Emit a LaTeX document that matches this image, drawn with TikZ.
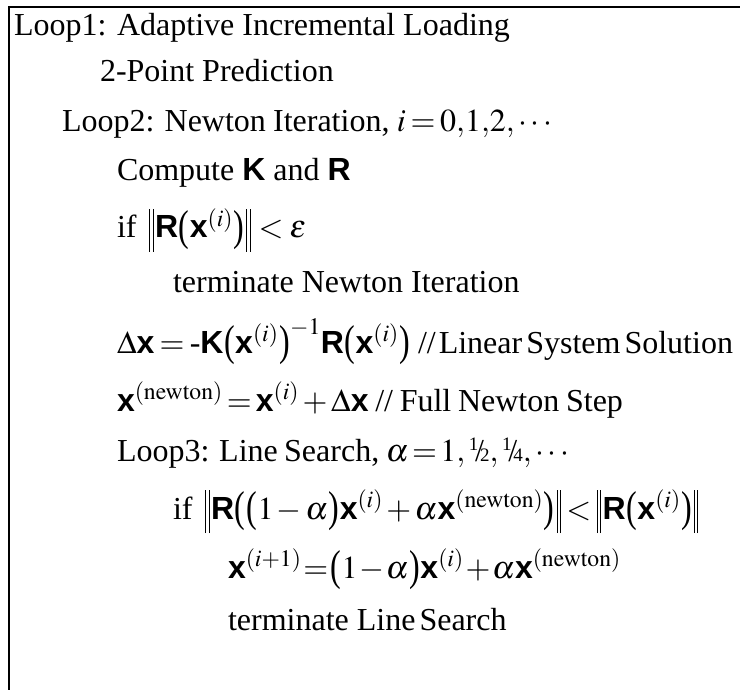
\documentclass[tikz,border=0pt]{standalone}
\usepackage{graphicx}
\usepackage{mathptmx}
\usepackage[no-math]{fontspec}
\setmainfont{Liberation Serif}
\setsansfont{Liberation Sans}

% bold sans-serif vectors and matrices
\newcommand\bvx{\mbox{\sffamily\bfseries x}}
\newcommand\bvK{\mbox{\sffamily\bfseries K}}
\newcommand\bvR{\mbox{\sffamily\bfseries R}}
% tall round brackets and norm bars
\newcommand\lpar{\mathopen{\mbox{\kern0.5pt\raisebox{-2.5pt}{\scalebox{1}[1.35]{(}}\kern0.5pt}}}
\newcommand\rpar{\mathclose{\mbox{\kern0.5pt\raisebox{-2.5pt}{\scalebox{1}[1.35]{)}}\kern0.5pt}}}
\newcommand\normbar{\mbox{\kern1.5pt\rule[-14pt]{1.1pt}{43pt}\kern2.4pt\rule[-14pt]{1.1pt}{43pt}\kern1.5pt}}
\newcommand\lnorm{\mathopen{\normbar}}
\newcommand\rnorm{\mathclose{\normbar}}
% slanted step-size fractions
\newcommand\slfrac[2]{\mbox{\raisebox{0.34em}{\fontsize{19}{19}\selectfont #1}\kern-0.1em/\kern-0.12em{\fontsize{19}{19}\selectfont #2}}}
% a line set to a given width by stretching its spaces
\newcommand\fitline[2]{\makebox[#1][s]{#2}}
% spacing around relations and binary operators
\AtBeginDocument{\thickmuskip=3.5mu plus 6mu minus 2.5mu\relax
  \medmuskip=3mu plus 6mu minus 2mu\relax}

\tikzset{
  codeline/.style={anchor=base west, inner sep=0pt, outer sep=0pt,
    font=\fontsize{32}{38}\selectfont},
  frameline/.style={line width=2.4pt, black}
}

\begin{document}
\begin{tikzpicture}[x=1pt,y=1pt]
  \useasboundingbox (0,0) rectangle (740,-690);

  % frame: top and left edges only
  \coordinate (tl) at (9,-7);
  \coordinate (tr) at (740,-7);
  \coordinate (bl) at (9,-690);
  \draw[frameline] (tr) -- (tl) -- (bl);

  \node[codeline] (l1)  at (14,-36)  {Loop1: Adaptive Incremental Loading};
  \node[codeline] (l2)  at (100,-82) {2-Point Prediction};
  \node[codeline] (l3)  at (62,-132) {\fitline{490pt}{Loop2: Newton Iteration, $i = 0{,}1{,}2{,}\cdots$}};
  \node[codeline] (l4)  at (117,-181) {Compute \bvK{} and \bvR};
  \node[codeline] (l5)  at (117,-238) {if\hspace{11pt}$\lnorm\bvR\lpar\bvx^{(i)}\rpar\rnorm < \varepsilon$};
  \node[codeline] (l6)  at (173,-292) {terminate Newton Iteration};
  \node[codeline] (l7)  at (117,-353) {\fitline{616pt}{$\Delta\bvx = \mbox{-}\bvK\lpar\bvx^{(i)}\rpar^{-1}\bvR\lpar\bvx^{(i)}\rpar$ //\hspace{3pt}Linear\hspace{4pt}System\hspace{4pt}Solution}};
  \node[codeline] (l8)  at (117,-411) {\fitline{506pt}{$\bvx^{(\mathrm{newton})} = \bvx^{(i)} + \Delta\bvx$ // Full Newton Step}};
  \node[codeline] (l9)  at (117,-461) {\fitline{452pt}{Loop3: Line Search, $\alpha = 1{,}\,\slfrac{1}{2}{,}\,\slfrac{1}{4}{,}\cdots$}};
  \node[codeline] (l10) at (173,-519) {\fitline{527pt}{if\hspace{11pt}$\lnorm\bvR\lpar\lpar1-\alpha\rpar\bvx^{(i)} + \alpha\bvx^{(\mathrm{newton})}\rpar\rnorm < \lnorm\bvR\lpar\bvx^{(i)}\rpar\rnorm$}};
  \node[codeline] (l11) at (228,-578) {\fitline{372pt}{$\bvx^{(i+1)} = \lpar1-\alpha\rpar\bvx^{(i)} + \alpha\bvx^{(\mathrm{newton})}$}};
  \node[codeline] (l12) at (228,-630) {terminate Line\hspace{4pt}Search};
\end{tikzpicture}
\end{document}
